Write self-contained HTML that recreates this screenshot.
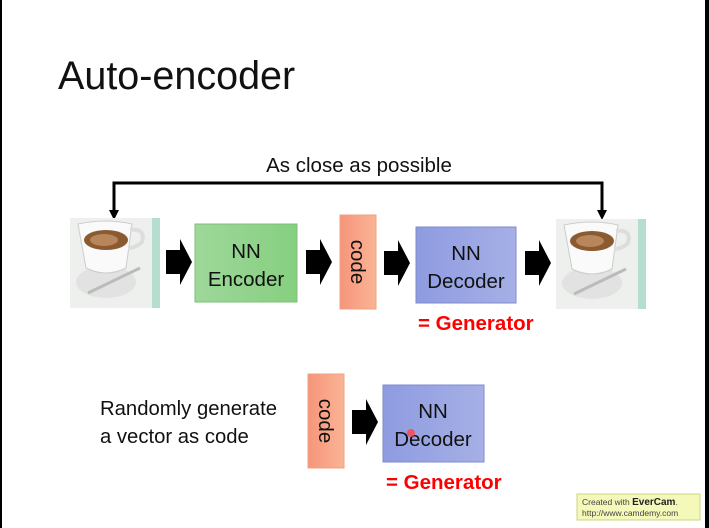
<!DOCTYPE html>
<html><head><meta charset="utf-8"><style>
body{margin:0;width:709px;height:528px;overflow:hidden;background:#fff}
svg{display:block}
text{font-family:"Liberation Sans",sans-serif}
</style></head><body>
<svg width="709" height="528" viewBox="0 0 709 528" xmlns="http://www.w3.org/2000/svg">
<defs>
<linearGradient id="g" x1="0" x2="1"><stop offset="0" stop-color="#9ed89a"/><stop offset="1" stop-color="#86cf80"/></linearGradient>
<linearGradient id="o" x1="0" x2="1"><stop offset="0" stop-color="#f6957a"/><stop offset="1" stop-color="#fbb496"/></linearGradient>
<linearGradient id="b" x1="0" x2="1"><stop offset="0" stop-color="#8e9be0"/><stop offset="1" stop-color="#a6b0e6"/></linearGradient>
<g id="arr"><path d="M0 11 H14 V0 L26 23 L14 46 V35 H0 Z" fill="#000"/></g>
<g id="cup">
<rect width="90" height="90" fill="#eef0ee"/>
<rect x="82" width="8" height="90" fill="#b5ddd0"/>
<ellipse cx="36" cy="64" rx="30" ry="16" fill="#e2e2e2"/>
<path d="M8 6 Q36 0 62 6 L56 50 Q36 60 16 50 Z" fill="#fafafa" stroke="#ccc"/>
<ellipse cx="36" cy="22" rx="22" ry="10" fill="#8a5a30"/>
<ellipse cx="34" cy="22" rx="14" ry="6" fill="#b9855a"/>
<path d="M60 12 Q76 10 72 24 Q66 30 58 30" fill="none" stroke="#ddd" stroke-width="4"/>
<path d="M18 75 L70 50" stroke="#bbb" stroke-width="3"/>
</g>
</defs>
<rect x="0" y="0" width="2" height="528" fill="#000"/>
<rect x="705" y="0" width="4" height="528" fill="#000"/>
<text x="58" y="89" font-size="39.5" fill="#111">Auto-encoder</text>
<text x="359" y="172" font-size="20.5" text-anchor="middle" fill="#111">As close as possible</text>
<path d="M114 212 V183 H602 V212" fill="none" stroke="#000" stroke-width="3"/>
<path d="M109 210 L114 220 L119 210 Z M597 210 L602 220 L607 210 Z" fill="#000"/>
<use href="#cup" x="70" y="218"/>
<use href="#cup" x="556" y="219"/>
<use href="#arr" x="166" y="239"/>
<rect x="195" y="224" width="102" height="78" fill="url(#g)" stroke="#7cc076"/>
<text x="246" y="258" font-size="20.5" text-anchor="middle" fill="#111">NN</text>
<text x="246" y="286" font-size="20.5" text-anchor="middle" fill="#111">Encoder</text>
<use href="#arr" x="306" y="239"/>
<rect x="340" y="215" width="36" height="94" fill="url(#o)" stroke="#f0a080"/>
<text transform="translate(351,262) rotate(90)" font-size="20.5" text-anchor="middle" fill="#111">code</text>
<use href="#arr" x="384" y="240"/>
<rect x="416" y="227" width="100" height="76" fill="url(#b)" stroke="#7f8bd0"/>
<text x="466" y="260" font-size="20.5" text-anchor="middle" fill="#111">NN</text>
<text x="466" y="288" font-size="20.5" text-anchor="middle" fill="#111">Decoder</text>
<use href="#arr" x="525" y="240"/>
<text x="418" y="330" font-size="20.5" font-weight="bold" fill="#f00">= Generator</text>
<text x="100" y="415" font-size="20.3" fill="#111">Randomly generate</text>
<text x="100" y="443" font-size="20.3" fill="#111">a vector as code</text>
<rect x="308" y="374" width="36" height="94" fill="url(#o)" stroke="#f0a080"/>
<text transform="translate(319,421) rotate(90)" font-size="20.5" text-anchor="middle" fill="#111">code</text>
<use href="#arr" x="352" y="399"/>
<rect x="383" y="385" width="101" height="77" fill="url(#b)" stroke="#7f8bd0"/>
<text x="433" y="418" font-size="20.5" text-anchor="middle" fill="#111">NN</text>
<text x="433" y="446" font-size="20.5" text-anchor="middle" fill="#111">Decoder</text>
<circle cx="411" cy="433" r="4" fill="#f44" opacity="0.8"/>
<text x="386" y="489" font-size="20.5" font-weight="bold" fill="#f00">= Generator</text>
<rect x="577" y="494" width="123" height="26" fill="#f4f8b8" stroke="#cfd480"/>
<text x="582" y="505" font-size="8.5" fill="#444">Created with <tspan font-weight="bold" font-size="10" fill="#222">EverCam</tspan>.</text>
<text x="582" y="516" font-size="8.5" fill="#444">http://www.camdemy.com</text>
</svg>
</body></html>
